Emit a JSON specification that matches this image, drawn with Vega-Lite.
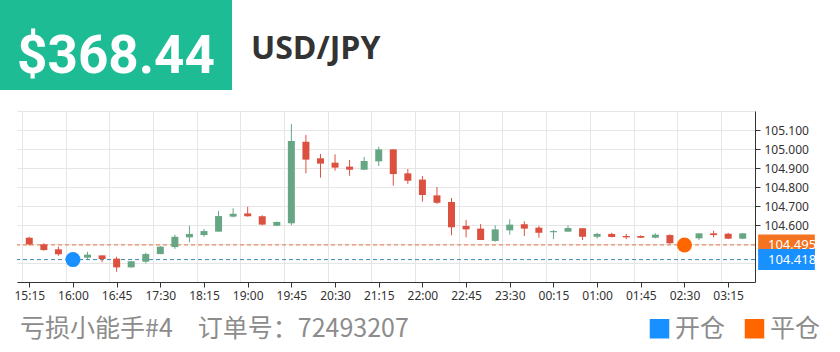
{
  "$schema": "https://vega.github.io/schema/vega-lite/v6.json",
  "padding": {"left": 0, "top": 0, "right": 0, "bottom": 8},
  "background": "white",
  "config": {"view": {"stroke": null}, "font": "Noto Sans", "axis": {"labelOverlap": false}, "axisY": {"labelOverlap": false}},
  "datasets": {
    "trades": [
      {"t": "2020-11-05 02:30", "p": 104.495, "k": "平仓"},
      {"t": "2020-11-04 16:00", "p": 104.418, "k": "开仓"}
    ],
    "candles": [
      {"t": "2020-11-04 15:15", "o": 104.533, "c": 104.498, "h": 104.538, "l": 104.491},
      {"t": "2020-11-04 15:30", "o": 104.498, "c": 104.468, "h": 104.504, "l": 104.465},
      {"t": "2020-11-04 15:45", "o": 104.472, "c": 104.446, "h": 104.486, "l": 104.438},
      {"t": "2020-11-04 16:00", "o": 104.425, "c": 104.418, "h": 104.430, "l": 104.410},
      {"t": "2020-11-04 16:15", "o": 104.428, "c": 104.444, "h": 104.459, "l": 104.419},
      {"t": "2020-11-04 16:30", "o": 104.440, "c": 104.421, "h": 104.440, "l": 104.404},
      {"t": "2020-11-04 16:45", "o": 104.423, "c": 104.377, "h": 104.433, "l": 104.354},
      {"t": "2020-11-04 17:00", "o": 104.377, "c": 104.409, "h": 104.410, "l": 104.376},
      {"t": "2020-11-04 17:15", "o": 104.407, "c": 104.447, "h": 104.454, "l": 104.398},
      {"t": "2020-11-04 17:30", "o": 104.447, "c": 104.486, "h": 104.490, "l": 104.446},
      {"t": "2020-11-04 17:45", "o": 104.484, "c": 104.538, "h": 104.549, "l": 104.474},
      {"t": "2020-11-04 18:00", "o": 104.535, "c": 104.553, "h": 104.596, "l": 104.509},
      {"t": "2020-11-04 18:15", "o": 104.547, "c": 104.568, "h": 104.579, "l": 104.538},
      {"t": "2020-11-04 18:30", "o": 104.565, "c": 104.647, "h": 104.674, "l": 104.565},
      {"t": "2020-11-04 18:45", "o": 104.644, "c": 104.659, "h": 104.688, "l": 104.640},
      {"t": "2020-11-04 19:00", "o": 104.661, "c": 104.646, "h": 104.696, "l": 104.644},
      {"t": "2020-11-04 19:15", "o": 104.646, "c": 104.602, "h": 104.651, "l": 104.598},
      {"t": "2020-11-04 19:30", "o": 104.596, "c": 104.616, "h": 104.618, "l": 104.594},
      {"t": "2020-11-04 19:45", "o": 104.609, "c": 105.042, "h": 105.132, "l": 104.598},
      {"t": "2020-11-04 20:00", "o": 105.038, "c": 104.944, "h": 105.074, "l": 104.872},
      {"t": "2020-11-04 20:15", "o": 104.951, "c": 104.923, "h": 104.974, "l": 104.849},
      {"t": "2020-11-04 20:30", "o": 104.928, "c": 104.902, "h": 104.972, "l": 104.886},
      {"t": "2020-11-04 20:45", "o": 104.907, "c": 104.891, "h": 104.942, "l": 104.859},
      {"t": "2020-11-04 21:00", "o": 104.891, "c": 104.937, "h": 104.958, "l": 104.889},
      {"t": "2020-11-04 21:15", "o": 104.935, "c": 104.998, "h": 105.012, "l": 104.911},
      {"t": "2020-11-04 21:30", "o": 104.998, "c": 104.868, "h": 104.998, "l": 104.807},
      {"t": "2020-11-04 21:45", "o": 104.872, "c": 104.833, "h": 104.895, "l": 104.816},
      {"t": "2020-11-04 22:00", "o": 104.839, "c": 104.758, "h": 104.858, "l": 104.723},
      {"t": "2020-11-04 22:15", "o": 104.756, "c": 104.717, "h": 104.800, "l": 104.711},
      {"t": "2020-11-04 22:30", "o": 104.721, "c": 104.588, "h": 104.742, "l": 104.546},
      {"t": "2020-11-04 22:45", "o": 104.595, "c": 104.577, "h": 104.626, "l": 104.535},
      {"t": "2020-11-04 23:00", "o": 104.581, "c": 104.521, "h": 104.605, "l": 104.521},
      {"t": "2020-11-04 23:15", "o": 104.516, "c": 104.577, "h": 104.598, "l": 104.512},
      {"t": "2020-11-04 23:30", "o": 104.572, "c": 104.602, "h": 104.630, "l": 104.549},
      {"t": "2020-11-04 23:45", "o": 104.604, "c": 104.581, "h": 104.619, "l": 104.542},
      {"t": "2020-11-05 00:00", "o": 104.586, "c": 104.559, "h": 104.595, "l": 104.533},
      {"t": "2020-11-05 00:15", "o": 104.562, "c": 104.568, "h": 104.574, "l": 104.526},
      {"t": "2020-11-05 00:30", "o": 104.565, "c": 104.584, "h": 104.598, "l": 104.565},
      {"t": "2020-11-05 00:45", "o": 104.583, "c": 104.538, "h": 104.583, "l": 104.521},
      {"t": "2020-11-05 01:00", "o": 104.538, "c": 104.553, "h": 104.559, "l": 104.528},
      {"t": "2020-11-05 01:15", "o": 104.553, "c": 104.537, "h": 104.559, "l": 104.535},
      {"t": "2020-11-05 01:30", "o": 104.542, "c": 104.535, "h": 104.553, "l": 104.525},
      {"t": "2020-11-05 01:45", "o": 104.542, "c": 104.533, "h": 104.546, "l": 104.532},
      {"t": "2020-11-05 02:00", "o": 104.533, "c": 104.549, "h": 104.556, "l": 104.530},
      {"t": "2020-11-05 02:15", "o": 104.547, "c": 104.504, "h": 104.551, "l": 104.500},
      {"t": "2020-11-05 02:30", "o": 104.495, "c": 104.505, "h": 104.510, "l": 104.490},
      {"t": "2020-11-05 02:45", "o": 104.530, "c": 104.556, "h": 104.556, "l": 104.521},
      {"t": "2020-11-05 03:00", "o": 104.556, "c": 104.547, "h": 104.570, "l": 104.535},
      {"t": "2020-11-05 03:15", "o": 104.554, "c": 104.528, "h": 104.559, "l": 104.526},
      {"t": "2020-11-05 03:30", "o": 104.528, "c": 104.556, "h": 104.556, "l": 104.526}
    ]
  },
  "spacing": 21,
  "vconcat": [
    {
      "width": 232,
      "height": 90,
      "view": {"fill": "#1ebc94", "stroke": null},
      "data": {"values": [{"amount": "$368.44", "pair": "USD/JPY"}]},
      "layer": [
        {
          "mark": {"type": "text", "font": "Roboto", "fontWeight": "bold", "fontSize": 53, "color": "white", "baseline": "alphabetic", "align": "center", "dy": 28},
          "encoding": {"text": {"field": "amount"}}
        },
        {
          "mark": {"type": "text", "font": "Open Sans", "fontWeight": "bold", "fontSize": 32, "color": "#333333", "align": "left", "baseline": "alphabetic", "dy": 14, "dx": 19},
          "encoding": {"x": {"value": "width"}, "text": {"field": "pair"}}
        }
      ]
    },
    {
      "spacing": 12,
      "hconcat": [
        {
          "width": 1,
          "height": 171,
          "data": {"values": [{"s": 0}]},
          "mark": {"type": "point", "opacity": 0, "size": 0},
          "encoding": {}
        },
        {
          "width": 738,
          "height": 171,
          "resolve": {"axis": {"x": "independent", "y": "independent"}},
          "layer": [
            {
              "data": {"name": "trades"},
              "mark": {"type": "rule", "strokeDash": [4, 3], "strokeWidth": 1},
              "encoding": {
                "y": {"field": "p", "type": "quantitative", "scale": {"domain": [104.3, 105.2], "nice": false, "zero": false},
                  "axis": {
                    "orient": "right", "title": null, "labels": false, "ticks": false, "domain": false,
                    "values": [104.3, 104.4, 104.5, 104.6, 104.7, 104.8, 104.9, 105.0, 105.1, 105.2],
                    "grid": true, "gridColor": "#e6e6e6"
                  }
                },
                "color": {"condition": {"test": "datum.k === '开仓'", "value": "#3a89b4"}, "value": "#e3763c"}
              }
            },
            {
              "data": {"name": "candles"},
              "mark": {"type": "rule", "strokeWidth": 1},
              "encoding": {
                "x": {"field": "t", "type": "temporal",
                  "scale": {"domain": [
                    {"year": 2020, "month": 11, "date": 4, "hours": 15, "minutes": 7, "seconds": 30},
                    {"year": 2020, "month": 11, "date": 5, "hours": 3, "minutes": 37, "seconds": 30}
                  ], "nice": false},
                  "axis": {
                    "orient": "bottom", "title": null, "labels": false, "ticks": false, "domain": false,
                    "grid": true, "gridColor": "#e6e6e6",
                    "values": [
                      {"year": 2020, "month": 11, "date": 4, "hours": 15, "minutes": 7, "seconds": 30},
                      {"year": 2020, "month": 11, "date": 4, "hours": 15, "minutes": 52, "seconds": 30},
                      {"year": 2020, "month": 11, "date": 4, "hours": 16, "minutes": 37, "seconds": 30},
                      {"year": 2020, "month": 11, "date": 4, "hours": 17, "minutes": 22, "seconds": 30},
                      {"year": 2020, "month": 11, "date": 4, "hours": 18, "minutes": 7, "seconds": 30},
                      {"year": 2020, "month": 11, "date": 4, "hours": 18, "minutes": 52, "seconds": 30},
                      {"year": 2020, "month": 11, "date": 4, "hours": 19, "minutes": 37, "seconds": 30},
                      {"year": 2020, "month": 11, "date": 4, "hours": 20, "minutes": 22, "seconds": 30},
                      {"year": 2020, "month": 11, "date": 4, "hours": 21, "minutes": 7, "seconds": 30},
                      {"year": 2020, "month": 11, "date": 4, "hours": 21, "minutes": 52, "seconds": 30},
                      {"year": 2020, "month": 11, "date": 4, "hours": 22, "minutes": 37, "seconds": 30},
                      {"year": 2020, "month": 11, "date": 4, "hours": 23, "minutes": 22, "seconds": 30},
                      {"year": 2020, "month": 11, "date": 5, "hours": 0, "minutes": 7, "seconds": 30},
                      {"year": 2020, "month": 11, "date": 5, "hours": 0, "minutes": 52, "seconds": 30},
                      {"year": 2020, "month": 11, "date": 5, "hours": 1, "minutes": 37, "seconds": 30},
                      {"year": 2020, "month": 11, "date": 5, "hours": 2, "minutes": 22, "seconds": 30},
                      {"year": 2020, "month": 11, "date": 5, "hours": 3, "minutes": 7, "seconds": 30}
                    ]
                  }
                },
                "y": {"field": "l", "type": "quantitative", "scale": {"domain": [104.3, 105.2], "nice": false, "zero": false}, "axis": null},
                "y2": {"field": "h"},
                "color": {"condition": {"test": "datum.c >= datum.o", "value": "#67a685"}, "value": "#dc5040"}
              }
            },
            {
              "data": {"name": "candles"},
              "mark": {"type": "bar", "width": 7},
              "encoding": {
                "x": {"field": "t", "type": "temporal",
                  "axis": {
                    "orient": "bottom", "title": null, "grid": false, "format": "%H:%M",
                    "values": [
                      {"year": 2020, "month": 11, "date": 4, "hours": 15, "minutes": 15},
                      {"year": 2020, "month": 11, "date": 4, "hours": 16, "minutes": 0},
                      {"year": 2020, "month": 11, "date": 4, "hours": 16, "minutes": 45},
                      {"year": 2020, "month": 11, "date": 4, "hours": 17, "minutes": 30},
                      {"year": 2020, "month": 11, "date": 4, "hours": 18, "minutes": 15},
                      {"year": 2020, "month": 11, "date": 4, "hours": 19, "minutes": 0},
                      {"year": 2020, "month": 11, "date": 4, "hours": 19, "minutes": 45},
                      {"year": 2020, "month": 11, "date": 4, "hours": 20, "minutes": 30},
                      {"year": 2020, "month": 11, "date": 4, "hours": 21, "minutes": 15},
                      {"year": 2020, "month": 11, "date": 4, "hours": 22, "minutes": 0},
                      {"year": 2020, "month": 11, "date": 4, "hours": 22, "minutes": 45},
                      {"year": 2020, "month": 11, "date": 4, "hours": 23, "minutes": 30},
                      {"year": 2020, "month": 11, "date": 5, "hours": 0, "minutes": 15},
                      {"year": 2020, "month": 11, "date": 5, "hours": 1, "minutes": 0},
                      {"year": 2020, "month": 11, "date": 5, "hours": 1, "minutes": 45},
                      {"year": 2020, "month": 11, "date": 5, "hours": 2, "minutes": 30},
                      {"year": 2020, "month": 11, "date": 5, "hours": 3, "minutes": 15}
                    ],
                    "domainColor": "#333333", "tickColor": "#333333", "tickSize": 5,
                    "labelColor": "#333333", "labelFontSize": 12, "labelFont": "Noto Sans", "labelPadding": 3,
                    "labelFlush": false, "labelOverlap": false, "labelBound": false
                  }
                },
                "y": {"field": "o", "type": "quantitative", "scale": {"domain": [104.3, 105.2], "nice": false, "zero": false},
                  "axis": {
                    "orient": "right", "title": null, "grid": false,
                    "values": [104.6, 104.7, 104.8, 104.9, 105.0, 105.1],
                    "format": ".3f",
                    "labelOverlap": false, "labelFlush": false, "labelBound": false,
                    "domainColor": "#333333", "tickColor": "#333333", "tickSize": 5,
                    "labelColor": "#333333", "labelFontSize": 12, "labelFont": "Noto Sans", "labelPadding": 4
                  }
                },
                "y2": {"field": "c"},
                "color": {"condition": {"test": "datum.c >= datum.o", "value": "#67a685"}, "value": "#dc5040"}
              }
            },
            {
              "data": {"name": "trades"},
              "mark": {"type": "point", "filled": true, "size": 225, "opacity": 1},
              "encoding": {
                "x": {"field": "t", "type": "temporal", "axis": null},
                "y": {"field": "p", "type": "quantitative", "scale": {"domain": [104.3, 105.2], "nice": false, "zero": false}, "axis": null},
                "color": {"field": "k", "type": "nominal",
                  "scale": {"domain": ["开仓", "平仓"], "range": ["#1890ff", "#ff6600"]},
                  "legend": {"orient": "none", "legendX": 20, "legendY": 316, "direction": "horizontal",
                    "title": "亏损小能手#4\u3000订单号：72493207",
                    "titleOrient": "left", "titlePadding": 238, "titleLimit": 600,
                    "titleFont": "Noto Sans CJK SC", "titleFontSize": 25, "titleFontWeight": "normal", "titleColor": "#8c8c8c",
                    "titleBaseline": "middle", "titleAnchor": "middle",
                    "symbolType": "square", "symbolSize": 380, "symbolStrokeWidth": 0, "symbolOpacity": 1,
                    "labelFont": "Noto Sans CJK SC", "labelFontSize": 25, "labelColor": "#8c8c8c",
                    "labelOffset": 3, "columnPadding": 16, "padding": 0}
                }
              }
            },
            {
              "data": {"name": "trades"},
              "mark": {"type": "point", "filled": true, "shape": "M0.3,-1H5.7V1H0.3Z", "size": 441, "opacity": 1},
              "encoding": {
                "x": {"value": "width"},
                "y": {"field": "p", "type": "quantitative", "axis": null},
                "color": {"condition": {"test": "datum.k === '开仓'", "value": "#1890ff"}, "value": "#f47320"}
              }
            },
            {
              "data": {"name": "trades"},
              "mark": {"type": "text", "align": "left", "baseline": "middle", "dx": 13, "color": "white", "fontSize": 13, "font": "Noto Sans"},
              "encoding": {
                "x": {"value": "width"},
                "y": {"field": "p", "type": "quantitative", "axis": null},
                "text": {"field": "p", "type": "quantitative", "format": ".3f"}
              }
            }
          ]
        }
      ]
    }
  ]
}
